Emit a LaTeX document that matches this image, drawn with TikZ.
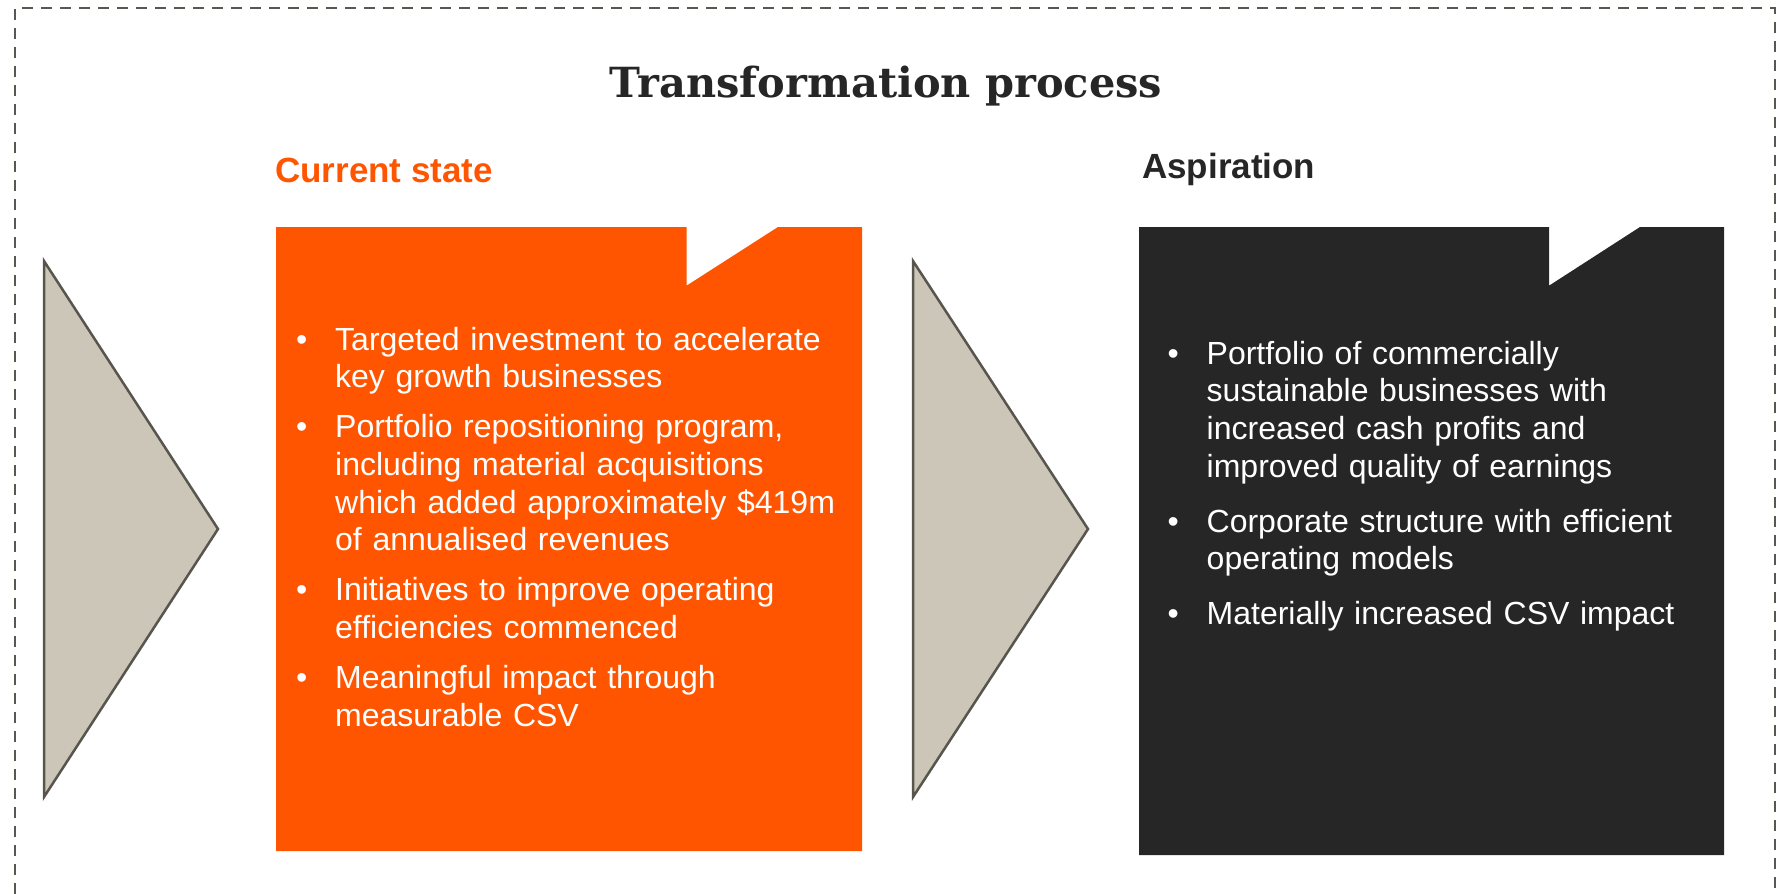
\documentclass[tikz,border=0pt]{standalone}
\usepackage{fontspec}
\setmainfont{Liberation Sans}
\newfontfamily\titlefont{DejaVu Serif}
\usepackage{xcolor}
\usepackage{tikz}
\usetikzlibrary{positioning, calc}

\definecolor{brandorange}{HTML}{FF5500}
\definecolor{panelgrey}{HTML}{262626}
\definecolor{arrowfill}{HTML}{CCC6B8}
\definecolor{arrowline}{HTML}{57554D}
\definecolor{frameline}{HTML}{5A5750}

% bullet mark with hanging indent; \bulletitem starts a new one
\newcommand{\bulletmark}{\hangindent=39pt\hangafter=1\noindent\makebox[39pt][l]{\textbullet}}
\newcommand{\bulletitem}{\par\bulletmark}

\begin{document}
\begin{tikzpicture}[
    x=1pt, y=-1pt,
    frame/.style={draw=frameline, line width=2.5pt, dash pattern=on 11pt off 8pt},
    stagearrow/.style={fill=arrowfill, draw=arrowline, line width=2.5pt, line join=miter},
    heading/.style={anchor=base west, inner sep=0pt, font=\fontsize{35}{40}\selectfont\bfseries},
    bodytext/.style={anchor=base west, inner sep=0pt, text=white,
        font=\fontsize{32}{37.6}\selectfont}
]
\useasboundingbox (0,0) rectangle (1783,894);

% dashed frame, open at the bottom
\draw[frame] (15,894) -- (15,8) -- (1775,8) -- (1775,894);

% title
\node[anchor=base, inner sep=0pt, text=panelgrey,
      font=\titlefont\fontsize{41.5}{48}\selectfont\bfseries] (title) at (886,97) {Transformation process};

% stage arrows
\filldraw[stagearrow] (44,261) -- (218,529) -- (44,797) -- cycle;
\filldraw[stagearrow] (913,261) -- (1088,529) -- (913,797) -- cycle;

% panels with notch
\fill[brandorange] (276,227) -- (686.5,227) -- (686.5,285.7) -- (778,227) -- (862,227)
    -- (862,851) -- (276,851) -- cycle;
\fill[panelgrey] (1139,227) -- (1549,227) -- (1549,285.7) -- (1640,227) -- (1724,227)
    -- (1724,855) -- (1139,855) -- cycle;

% headings
\node[heading, text=brandorange] (current) at (275,182) {Current state};
\node[heading, text=panelgrey] (aspiration) at (1142,178) {Aspiration};

% bullet texts
\node[bodytext, text width=560pt] (currentlist) at (296,350) {%
    \bulletmark Targeted investment to accelerate\newline key growth businesses\setlength{\parskip}{12.6pt}
    \bulletitem Portfolio repositioning program,\newline including material acquisitions\newline which added approximately \$419m\newline of annualised revenues
    \bulletitem Initiatives to improve operating\newline efficiencies commenced
    \bulletitem Meaningful impact through\newline measurable CSV\par};

\node[bodytext, text width=550pt] (aspirationlist) at (1167.5,364.3) {%
    \bulletmark Portfolio of commercially\newline sustainable businesses with\newline increased cash profits and\newline improved quality of earnings\setlength{\parskip}{17.3pt}
    \bulletitem Corporate structure with efficient\newline operating models
    \bulletitem Materially increased CSV impact\par};

\end{tikzpicture}
\end{document}
